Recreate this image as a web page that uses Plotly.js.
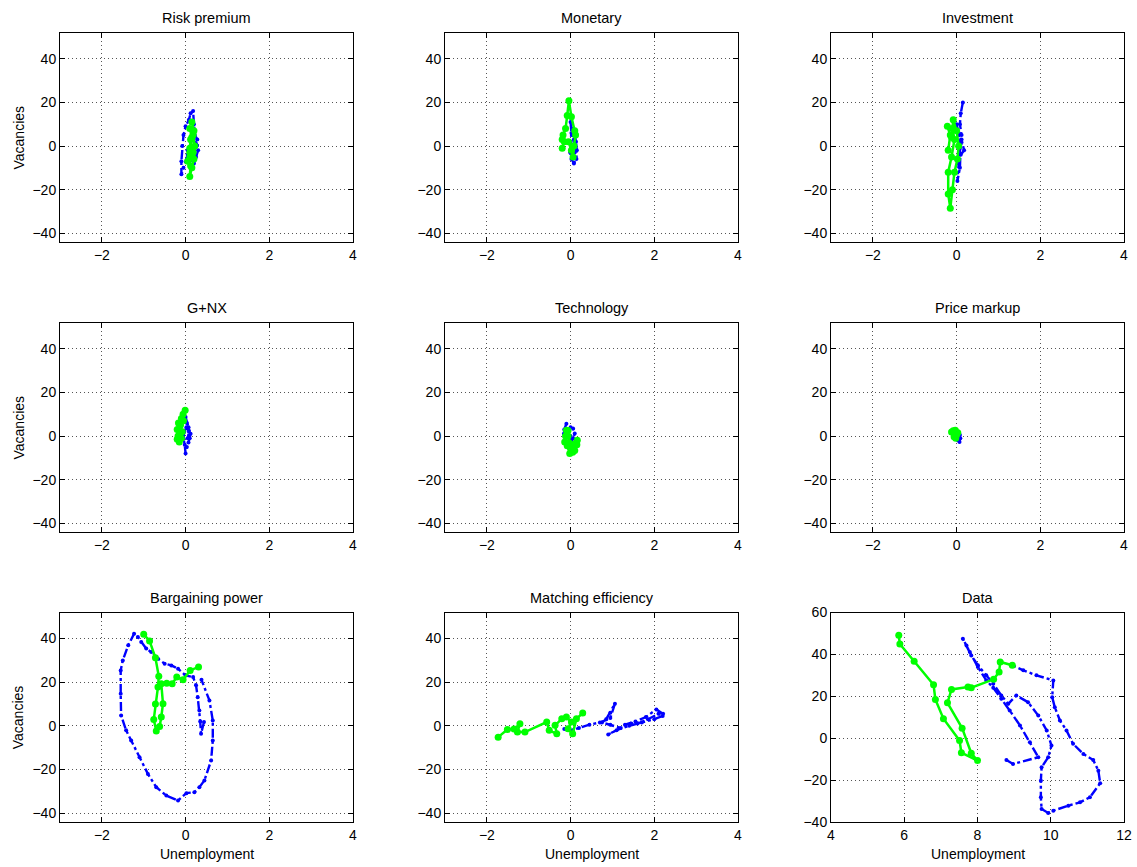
<!DOCTYPE html>
<html>
<head>
<meta charset="utf-8">
<script src="https://cdn.plot.ly/plotly-3.0.1.min.js"></script>
<style>html,body{margin:0;padding:0;background:#fff;}#chart{width:1137px;height:867px;}</style>
</head>
<body>
<div id="chart"></div>
<script>
// ---------- titles / labels ----------
const panelTitles = ["Risk premium", "Monetary", "Investment", "G+NX", "Technology", "Price markup", "Bargaining power", "Matching efficiency", "Data"];
const xAxisLabel = "Unemployment";
const yAxisLabel = "Vacancies";
const shockTicksX = [-2, 0, 2, 4];
const shockTicksY = [-40, -20, 0, 20, 40];
const dataTicksX = [4, 6, 8, 10, 12];
const dataTicksY = [-40, -20, 0, 20, 40, 60];

// ---------- series (unemployment, vacancies) ----------
// Risk premium
const riskBlueU = [0.05, -0.05, -0.1, -0.1, -0.08, -0.05, 0.0, 0.08, 0.12, 0.18, 0.2, 0.22, 0.28, 0.3, 0.25, 0.2, 0.15, 0.1, 0.12, 0.2, 0.25, 0.18, 0.1, 0.05];
const riskBlueV = [-4, -10, -13, -7, 0, 5, 9, 12, 15, 16, 10, 5, 3, -2, -5, -8, -6, -3, 2, 6, 1, -4, -7, -2];
const riskGreenU = [0.15, 0.2, 0.12, 0.1, 0.18, 0.1, 0.05, 0.12, 0.1, 0.15, 0.2, 0.22, 0.18, 0.1, 0.15, 0.1];
const riskGreenV = [11, 7, 3, -1, -3, -5, -7, -9, -14, -10, -6, 0, 5, 8, 4, -3];
// Monetary
const monBlueU = [0.0, 0.02, 0.0, -0.01, 0.02, 0.08, 0.14, 0.15, 0.13, 0.1, 0.05, 0.08, 0.1];
const monBlueV = [11, 6, 2, -3, -6, -8, -6, -2, 2, 5, 8, 3, -3];
const monGreenU = [-0.2, -0.15, -0.18, -0.12, -0.08, -0.04, 0.02, 0.1, 0.12, 0.08, 0.06, 0.02, -0.05, -0.2];
const monGreenV = [-1, 2, 5, 8, 14, 20.8, 13.4, 7, 5, 0, -5, -2, 2, 3];
// Investment
const invBlueU = [0.15, 0.1, 0.08, 0.12, 0.05, 0.1, 0.18, 0.12, 0.05, 0.02, 0.08, 0.1, 0.05, 0.0];
const invBlueV = [20, 15, 10, 5, 0, -4, -2, 3, -8, -16, -10, 1, 6, 10];
const invGreenU = [-0.2, -0.15, -0.22, -0.1, -0.05, -0.12, -0.2, -0.2, -0.15, -0.1, -0.05, 0.02, 0.05, 0.0, -0.08, -0.12];
const invGreenV = [-2, 5, 9, 8, 3, -5, -12, -22, -28.5, -20, -12, -6, 0, 7, 12, 4];
// G+NX
const gnxBlueU = [0.0, 0.03, 0.07, 0.12, 0.1, 0.07, 0.03, 0.0, -0.02, -0.05, -0.03, 0.02, 0.08, 0.05];
const gnxBlueV = [8.7, 6, 4, 1, -1, -3, -5, -8, -4, -1, 2, 4, 2, -1];
const gnxGreenU = [-0.01, -0.06, -0.1, -0.17, -0.2, -0.18, -0.2, -0.15, -0.1, -0.08, -0.12, -0.05];
const gnxGreenV = [11.8, 10, 8, 6, 3, 0, -1.5, -2.7, -1, 2, 5, 7];
// Technology
const techBlueU = [-0.1, -0.15, -0.16, -0.11, -0.05, 0.0, 0.06, 0.1, 0.06, 0.02, 0.0, -0.06];
const techBlueV = [5.6, 3, 1, 0.3, 2, 4, 3.4, 1.1, -1, -2.7, 0, 1.8];
const techGreenU = [-0.1, -0.12, -0.14, -0.08, -0.02, 0.05, 0.1, 0.15, 0.16, 0.1, 0.03, -0.04, -0.06, -0.06];
const techGreenV = [2.6, 0, -2.7, -4.5, -8, -7.5, -6.6, -4, -2, -3.5, -5, -3, 0, 2.5];
// Price markup
const markupBlueU = [0.0, 0.04, 0.08, 0.09, 0.07, 0.03, 0.05];
const markupBlueV = [-1, 1.5, 0.5, -1, -2.7, -2, -0.5];
const markupGreenU = [-0.12, -0.08, -0.03, 0.03, 0.0, -0.06, -0.02];
const markupGreenV = [1.8, 2.4, 2.6, 1.5, 0.5, -0.3, -1];
// Bargaining power
const bargBlueU = [0.44, 0.37, 0.35, 0.33, 0.29, 0.25, 0.18, 0.0, -0.18, -0.34, -0.5, -0.66, -0.82, -0.94, -1.06, -1.14, -1.23, -1.37, -1.5, -1.55, -1.55, -1.54, -1.42, -1.3, -1.1, -0.9, -0.7, -0.46, -0.18, 0.02, 0.21, 0.33, 0.45, 0.61, 0.65, 0.65, 0.57, 0.38];
const bargBlueV = [1.7, -3.7, 2, 7, 13.1, 18.5, 22.3, 23, 26.1, 27.6, 28.4, 30.7, 33.7, 35.3, 38.3, 40.6, 42.1, 36.8, 29.9, 25.3, 14.7, 4.7, -2.1, -6.7, -14.4, -22, -28.1, -31.9, -34.2, -30.8, -30.4, -28.1, -25, -15.9, -6.7, 2.4, 11.6, 21];
const bargGreenU = [-1.0, -0.86, -0.72, -0.64, -0.66, -0.72, -0.76, -0.7, -0.62, -0.58, -0.54, -0.58, -0.45, -0.32, -0.21, -0.06, 0.11, 0.31];
const bargGreenV = [41.8, 38.8, 31.1, 22.6, 17.7, 10, 2.9, -2.4, -0.3, 4, 10.1, 19.2, 19.5, 19.2, 22.3, 21.1, 25.3, 26.9];
// Matching efficiency
const matchBlueU = [-0.15, 0.05, 0.2, 0.45, 0.7, 0.95, 1.06, 0.95, 0.85, 0.75, 0.95, 1.2, 0.9, 1.1, 1.4, 1.6, 1.85, 2.1, 2.2, 2.0, 1.7, 1.45, 1.3, 1.55, 1.8, 2.05, 2.21];
const matchBlueV = [-1.5, -2, -1, 0.5, 1.5, 3.5, 10.1, 6, 3, 1.5, 0.5, -1, -4, -2, 0, 1, 3, 5.5, 4.5, 3, 1.5, 1, 0.5, 2, 4, 7.5, 5.5];
const matchGreenU = [-1.73, -1.51, -1.35, -1.21, -1.27, -1.09, -0.57, -0.51, -0.33, -0.37, -0.21, -0.1, 0.02, -0.06, 0.05, 0.14, 0.29];
const matchGreenV = [-5.2, -1.7, -1.5, 0.9, -2.9, -2.9, 1.7, -2.1, -3.7, 0.2, 3.2, 4, 1.7, -1.4, -3.7, 3.2, 5.8];
// Data
const dataBlueU = [8.79, 8.97, 9.66, 9.43, 9.16, 8.88, 8.65, 8.43, 8.24, 8.01, 7.79, 7.60, 7.70, 7.83, 8.01, 8.24, 8.43, 8.65, 8.84, 9.06, 9.38, 9.66, 9.89, 10.02, 9.93, 9.75, 9.73, 9.73, 9.75, 9.93, 10.07, 10.48, 10.80, 11.07, 11.35, 11.30, 11.16, 10.89, 10.61, 10.43, 10.25, 10.11, 10.04, 10.07, 9.61, 9.25, 8.95];
const dataBlueV = [-10.4, -12.3, -9.1, -1.9, 6.1, 13.2, 18.8, 24.1, 27.6, 34.0, 41.1, 47.5, 44.3, 39.5, 34.8, 30.0, 26.0, 20.4, 16.4, 20.4, 17.2, 10.8, 3.7, -3.5, -9.1, -13.9, -20.3, -28.2, -33.8, -35.7, -34.6, -32.2, -30.6, -28.2, -21.5, -15.5, -10.4, -7.5, -2.7, 3.7, 8.5, 14.8, 19.6, 27.6, 30.0, 32.4, 34.8];
const dataGreenU = [5.85, 5.88, 6.27, 6.80, 6.85, 7.07, 7.51, 7.56, 8.0, 7.83, 7.58, 7.18, 7.29, 7.74, 7.83, 8.44, 8.59, 8.62, 8.95];
const dataGreenV = [49.1, 45.0, 36.7, 25.5, 18.5, 9.3, -1.1, -6.9, -10.7, -7.2, 4.8, 16.9, 23.3, 24.4, 24.1, 28.1, 31.6, 36.4, 34.8];

const blueSeries = [[riskBlueU, riskBlueV], [monBlueU, monBlueV], [invBlueU, invBlueV], [gnxBlueU, gnxBlueV], [techBlueU, techBlueV], [markupBlueU, markupBlueV], [bargBlueU, bargBlueV], [matchBlueU, matchBlueV], [dataBlueU, dataBlueV]];
const greenSeries = [[riskGreenU, riskGreenV], [monGreenU, monGreenV], [invGreenU, invGreenV], [gnxGreenU, gnxGreenV], [techGreenU, techGreenV], [markupGreenU, markupGreenV], [bargGreenU, bargGreenV], [matchGreenU, matchGreenV], [dataGreenU, dataGreenV]];

// ---------- layout geometry (pixels) ----------
const W = 1137, H = 867;
const colPx = [[60, 353], [445, 738], [831, 1124]];
const rowPx = [[33, 242], [323, 532], [612.5, 822]];

const traces = [];
const layout = {
  width: W, height: H,
  margin: {l: 0, r: 0, t: 0, b: 0},
  paper_bgcolor: '#ffffff', plot_bgcolor: '#ffffff',
  showlegend: false,
  font: {family: 'Liberation Sans, Arial, sans-serif', size: 14, color: '#000'},
  annotations: []
};

for (let i = 0; i < 9; i++) {
  const r = Math.floor(i / 3), c = i % 3;
  const ax = i === 0 ? '' : String(i + 1);
  const isData = i === 8;
  const common = {
    showline: true, linecolor: '#000', linewidth: 1, mirror: 'ticks',
    ticks: 'inside', ticklen: 5, tickcolor: '#000',
    showgrid: true, gridcolor: '#555', griddash: '1px,3px', gridwidth: 1,
    zeroline: false, tickfont: {size: 14, color: '#000'}, fixedrange: true
  };
  layout['xaxis' + ax] = Object.assign({}, common, {
    domain: [colPx[c][0] / W, colPx[c][1] / W],
    range: isData ? [4, 12] : [-3, 4],
    tickmode: 'array', tickvals: isData ? dataTicksX : shockTicksX,
    anchor: 'y' + ax
  });
  layout['yaxis' + ax] = Object.assign({}, common, {
    domain: [1 - rowPx[r][1] / H, 1 - rowPx[r][0] / H],
    range: isData ? [-40, 60] : [-44, 51.8],
    tickmode: 'array', tickvals: isData ? dataTicksY : shockTicksY,
    anchor: 'x' + ax
  });
  traces.push({
    x: blueSeries[i][0], y: blueSeries[i][1], xaxis: 'x' + ax, yaxis: 'y' + ax,
    type: 'scatter', mode: 'lines+markers',
    line: {color: '#0000ff', width: 2.4, dash: 'dashdot'},
    marker: {color: '#0000ff', size: 4}
  });
  traces.push({
    x: greenSeries[i][0], y: greenSeries[i][1], xaxis: 'x' + ax, yaxis: 'y' + ax,
    type: 'scatter', mode: 'lines+markers',
    line: {color: '#00ff00', width: 2.5},
    marker: {color: '#00ff00', size: 7}
  });
  // panel title
  layout.annotations.push({
    text: panelTitles[i], xref: 'paper', yref: 'paper',
    x: (colPx[c][0] + colPx[c][1]) / 2 / W, y: 1 - (rowPx[r][0] - 15) / H,
    xanchor: 'center', yanchor: 'middle', showarrow: false,
    font: {size: 14.5, color: '#000'}
  });
  if (c === 0) {
    layout.annotations.push({
      text: yAxisLabel, xref: 'paper', yref: 'paper',
      x: 18 / W, y: 1 - (rowPx[r][0] + rowPx[r][1]) / 2 / H,
      xanchor: 'center', yanchor: 'middle', textangle: -90, showarrow: false,
      font: {size: 14, color: '#000'}
    });
  }
  if (r === 2) {
    layout.annotations.push({
      text: xAxisLabel, xref: 'paper', yref: 'paper',
      x: (colPx[c][0] + colPx[c][1]) / 2 / W, y: 1 - 854 / H,
      xanchor: 'center', yanchor: 'middle', showarrow: false,
      font: {size: 14, color: '#000'}
    });
  }
}

Plotly.newPlot('chart', traces, layout, {staticPlot: true, displayModeBar: false});
</script>
</body>
</html>
